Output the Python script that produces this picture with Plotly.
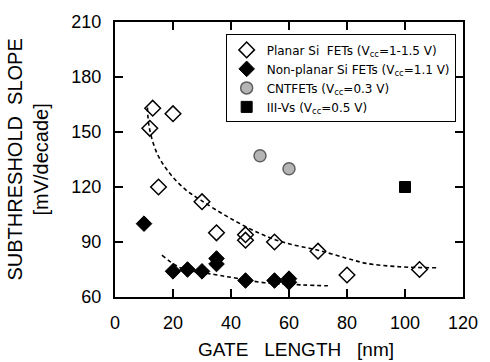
import plotly.graph_objects as go

# Planar Si FETs (open diamonds)
planar_x = [12, 13, 20, 15, 30, 35, 45, 45, 55, 70, 80, 105]
planar_y = [152, 163, 160, 120, 112, 95, 94, 91, 90, 85, 72, 75]

# Non-planar Si FETs (filled diamonds)
nonplanar_x = [10, 20, 25, 30, 35, 35, 45, 55, 60, 60]
nonplanar_y = [100, 74, 75, 74, 81, 78, 69, 69, 70, 68]

# CNTFETs (grey circles)
cnt_x = [50, 60]
cnt_y = [137, 130]

# III-V devices (filled square)
iii_v_x = [100]
iii_v_y = [120]

# Dashed trend curves
planar_fit_x = [11.2, 11.8, 14.6, 19, 24.6, 29.7, 39, 50, 58.8, 70, 82.4, 86.8, 98, 111.5]
planar_fit_y = [163.4, 152.6, 138, 127.2, 118.2, 112.7, 103.6, 94.6, 89.5, 85.5, 80, 78.3, 76.5, 75.9]
nonplanar_fit_x = [16.2, 23, 34.2, 42, 51.5, 64.4, 73.4]
nonplanar_fit_y = [82.8, 75.6, 72.3, 70.2, 67.8, 66.6, 66.1]

x_ticks = [0, 20, 40, 60, 80, 100, 120]
y_ticks = [60, 90, 120, 150, 180, 210]

fig = go.Figure()

fig.add_trace(go.Scatter(
    x=nonplanar_fit_x, y=nonplanar_fit_y, mode="lines",
    line=dict(color="black", width=1.6, dash="4px,3px", shape="spline"),
    showlegend=False, hoverinfo="skip"))

fig.add_trace(go.Scatter(
    x=planar_x, y=planar_y, mode="markers",
    name="Planar Si  FETs (V<sub>cc</sub>=1-1.5 V)",
    marker=dict(symbol="diamond-open", size=12, color="black",
                line=dict(color="black", width=1.5))))

fig.add_trace(go.Scatter(
    x=nonplanar_x, y=nonplanar_y, mode="markers",
    name="Non-planar Si FETs (V<sub>cc</sub>=1.1 V)",
    marker=dict(symbol="diamond", size=12, color="black",
                line=dict(color="black", width=1))))

fig.add_trace(go.Scatter(
    x=cnt_x, y=cnt_y, mode="markers",
    name="CNTFETs (V<sub>cc</sub>=0.3 V)",
    marker=dict(symbol="circle", size=12, color="#b5b5b5",
                line=dict(color="#606060", width=1.5))))

fig.add_trace(go.Scatter(
    x=iii_v_x, y=iii_v_y, mode="markers",
    name="III-Vs (V<sub>cc</sub>=0.5 V)",
    marker=dict(symbol="square", size=11, color="black",
                line=dict(color="black", width=1))))

fig.add_trace(go.Scatter(
    x=planar_fit_x, y=planar_fit_y, mode="lines",
    line=dict(color="black", width=1.6, dash="4px,3px", shape="spline"),
    showlegend=False, hoverinfo="skip"))

axis_common = dict(
    showline=True, linecolor="black", linewidth=2, mirror="ticks",
    ticks="inside", ticklen=8, tickwidth=2, tickcolor="black",
    showgrid=False, zeroline=False,
    tickfont=dict(family="Liberation Sans, Arial", size=18, color="black"),
    ticklabelstandoff=8,
)

fig.update_xaxes(range=[0, 120], tickvals=x_ticks, **axis_common)
fig.update_yaxes(range=[60, 210], tickvals=y_ticks, **axis_common)

fig.add_annotation(
    text="SUBTHRESHOLD  SLOPE<br>[mV/decade]", textangle=-90,
    xref="paper", yref="paper", x=0, y=0.5, xanchor="right", yanchor="middle",
    xshift=-62, showarrow=False,
    font=dict(family="Liberation Sans, Arial", size=20, color="black"))

fig.add_annotation(
    text="GATE   LENGTH   [nm]",
    xref="paper", yref="paper", x=0.52, y=0, xanchor="center", yanchor="top",
    yshift=-40, showarrow=False,
    font=dict(family="Liberation Sans, Arial", size=19, color="black"))

fig.update_layout(
    width=490, height=362,
    margin=dict(l=115, r=18, t=21, b=65),
    plot_bgcolor="white", paper_bgcolor="white",
    legend=dict(
        x=0.318, y=0.955, xanchor="left", yanchor="top",
        bgcolor="white", bordercolor="black", borderwidth=1,
        font=dict(family="DejaVu Sans, Verdana", size=12, color="black"),
        itemwidth=30, tracegroupgap=0,
    ),
)

fig.write_html("out.html")
